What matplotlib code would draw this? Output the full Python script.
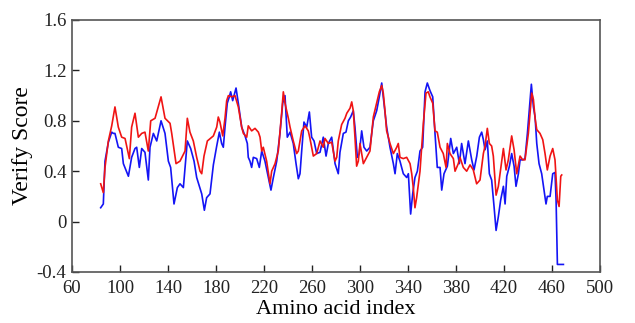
import matplotlib
matplotlib.use("Agg")
import matplotlib.pyplot as plt

# Red series (residue index, verify score)
red_x = [83.9, 86.1, 87.5, 90.3, 93.1, 95.8, 98.6, 101.4, 104.2, 107.8, 109.7, 112.5, 115.3, 118.1,
         120.8, 123.6, 125.6, 129.2, 134.2, 137.5, 141.7, 143.1, 146.7, 150.0, 154.2, 156.1, 158.3,
         161.1, 163.9, 166.7, 168.1, 170.0, 172.8, 177.8, 180.6, 181.9, 183.3, 185.6, 187.5, 188.9,
         190.3, 193.1, 195.8, 198.6, 201.4, 202.8, 205.6, 206.9, 209.7, 212.5, 215.3, 216.7, 218.1,
         219.4, 222.2, 225.0, 226.4, 229.2, 231.9, 234.7, 236.1, 237.5, 240.3, 241.7, 244.4, 247.2,
         248.6, 251.4, 254.2, 256.9, 258.3, 261.1, 263.9, 266.7, 269.4, 270.8, 273.6, 276.4, 279.2,
         280.6, 281.9, 284.7, 287.5, 289.0, 291.7, 293.1, 294.4, 295.8, 297.2, 298.6, 300.0, 302.8,
         305.6, 308.3, 311.1, 313.9, 316.1, 318.1, 319.4, 320.8, 322.2, 325.0, 327.8, 330.6, 331.9,
         333.3, 336.1, 338.9, 341.7, 343.1, 344.4, 345.8, 347.2, 350.0, 352.8, 355.0, 356.9, 358.3,
         360.6, 362.5, 364.4, 366.7, 369.4, 371.7, 372.8, 375.0, 377.8, 379.2, 381.9, 383.3, 386.1,
         388.9, 391.7, 394.4, 397.2, 400.0, 402.8, 404.2, 406.1, 407.8, 409.7, 411.1, 413.4, 415.3,
         416.7, 419.5, 421.7, 423.6, 426.4, 428.4, 430.6, 433.4, 435.6, 437.5, 440.3, 443.1, 444.5,
         445.9, 447.3, 450.0, 452.3, 454.2, 456.1, 458.4, 460.6, 462.5, 464.5, 465.9, 467.3, 468.1]
red_y = [0.30, 0.23, 0.43, 0.64, 0.76, 0.91, 0.75, 0.67, 0.66, 0.50, 0.75, 0.86, 0.67, 0.70,
         0.71, 0.56, 0.80, 0.82, 0.99, 0.82, 0.78, 0.70, 0.46, 0.48, 0.56, 0.82, 0.71,
         0.64, 0.51, 0.40, 0.38, 0.52, 0.64, 0.68, 0.75, 0.83, 0.79, 0.68, 0.82, 0.96,
         1.00, 0.99, 1.00, 0.91, 0.75, 0.70, 0.67, 0.76, 0.72, 0.74, 0.71, 0.67, 0.56,
         0.59, 0.48, 0.30, 0.40, 0.46, 0.56, 0.86, 1.03, 0.94, 0.82, 0.75, 0.64, 0.54,
         0.56, 0.72, 0.76, 0.72, 0.66, 0.52, 0.54, 0.64, 0.59, 0.66, 0.62, 0.63, 0.48,
         0.51, 0.64, 0.77, 0.82, 0.86, 0.90, 0.95, 0.88, 0.67, 0.44, 0.48, 0.62, 0.46,
         0.51, 0.56, 0.83, 0.94, 1.03, 1.08, 1.02, 0.88, 0.72, 0.62, 0.54, 0.59, 0.62,
         0.51, 0.50, 0.51, 0.46, 0.38, 0.27, 0.11, 0.19, 0.40, 0.78, 1.02, 1.03, 0.99,
         0.94, 0.72, 0.71, 0.59, 0.54, 0.43, 0.62, 0.54, 0.50, 0.40, 0.46, 0.51, 0.43,
         0.40, 0.45, 0.41, 0.30, 0.33, 0.54, 0.60, 0.74, 0.62, 0.60, 0.52, 0.21, 0.28,
         0.38, 0.58, 0.41, 0.49, 0.68, 0.57, 0.38, 0.52, 0.49, 0.49, 0.70, 1.02, 0.97,
         0.82, 0.73, 0.70, 0.65, 0.54, 0.41, 0.52, 0.58, 0.49, 0.17, 0.12, 0.36, 0.37]

# Blue series
blue_x = [83.9, 86.1, 87.5, 90.3, 93.1, 94.4, 95.8, 98.6, 101.4, 102.8, 107.0, 109.7, 112.5, 113.9,
          116.1, 118.1, 120.8, 123.6, 125.0, 127.8, 130.6, 134.2, 137.5, 140.3, 142.2, 145.0, 147.8,
          150.0, 152.8, 156.1, 158.9, 161.7, 163.9, 168.1, 170.3, 172.2, 175.0, 177.8, 180.6, 182.8,
          184.7, 186.1, 187.5, 189.4, 191.1, 192.2, 193.9, 196.7, 198.6, 201.4, 204.2, 206.1, 206.9,
          208.3, 209.7, 211.1, 213.9, 216.1, 218.1, 220.8, 223.6, 225.8, 227.8, 230.6, 233.3, 235.6,
          237.5, 239.4, 241.7, 244.4, 246.7, 248.6, 250.0, 251.4, 253.3, 255.6, 257.8, 259.7, 261.7,
          263.9, 266.7, 269.4, 271.7, 273.6, 276.4, 279.2, 281.9, 283.3, 286.1, 288.3, 290.3, 292.2,
          294.4, 295.8, 297.8, 299.4, 301.4, 303.3, 305.6, 308.3, 311.1, 313.9, 316.1, 318.1, 319.4,
          322.2, 325.0, 327.8, 329.2, 331.1, 333.3, 336.1, 338.9, 340.3, 342.2, 343.9, 345.8, 347.8,
          350.0, 352.2, 354.2, 356.1, 358.3, 360.6, 362.5, 364.4, 366.7, 368.1, 370.0, 372.8, 375.6,
          377.8, 380.6, 382.8, 384.7, 387.5, 390.3, 393.1, 395.0, 397.3, 399.5, 401.4, 402.8, 404.2,
          406.1, 407.8, 409.7, 411.7, 413.4, 415.3, 417.2, 419.5, 420.9, 422.3, 424.5, 426.4, 428.4,
          430.0, 432.0, 433.4, 435.6, 437.5, 439.5, 441.1, 442.8, 444.5, 445.9, 447.3, 449.2, 451.4,
          453.4, 455.0, 456.1, 458.4, 460.6, 462.5, 463.4, 464.5, 469.5]
blue_y = [0.11, 0.14, 0.48, 0.63, 0.71, 0.70, 0.70, 0.59, 0.58, 0.46, 0.36, 0.51, 0.58, 0.59,
          0.43, 0.58, 0.55, 0.33, 0.59, 0.70, 0.64, 0.80, 0.70, 0.48, 0.43, 0.14, 0.27,
          0.30, 0.27, 0.64, 0.58, 0.48, 0.35, 0.22, 0.09, 0.19, 0.22, 0.45, 0.60, 0.71,
          0.62, 0.59, 0.75, 0.94, 0.99, 1.03, 0.96, 1.06, 0.94, 0.75, 0.68, 0.62, 0.51,
          0.48, 0.43, 0.51, 0.50, 0.43, 0.56, 0.48, 0.35, 0.25, 0.35, 0.48, 0.70, 0.94,
          1.00, 0.67, 0.71, 0.62, 0.46, 0.34, 0.38, 0.56, 0.79, 0.75, 0.87, 0.67, 0.64,
          0.54, 0.55, 0.67, 0.52, 0.62, 0.67, 0.46, 0.38, 0.55, 0.70, 0.71, 0.80, 0.83,
          0.88, 0.75, 0.51, 0.54, 0.72, 0.59, 0.56, 0.59, 0.80, 0.88, 0.99, 1.10, 0.99,
          0.75, 0.59, 0.46, 0.38, 0.54, 0.48, 0.38, 0.35, 0.38, 0.06, 0.22, 0.35, 0.40,
          0.56, 0.59, 1.03, 1.10, 1.04, 0.99, 0.70, 0.43, 0.43, 0.25, 0.38, 0.44, 0.66,
          0.54, 0.59, 0.46, 0.62, 0.46, 0.64, 0.49, 0.41, 0.52, 0.67, 0.71, 0.65, 0.57,
          0.64, 0.38, 0.33, 0.12, -0.07, 0.04, 0.17, 0.28, 0.14, 0.36, 0.44, 0.54, 0.44,
          0.28, 0.38, 0.49, 0.49, 0.50, 0.70, 0.89, 1.09, 0.91, 0.83, 0.62, 0.46, 0.38,
          0.25, 0.14, 0.20, 0.20, 0.38, 0.39, 0.17, -0.34, -0.34]

x_ticks = [60, 100, 140, 180, 220, 260, 300, 340, 380, 420, 460, 500]
y_ticks = [-0.4, 0, 0.4, 0.8, 1.2, 1.6]
y_tick_labels = ["-0.4", "0", "0.4", "0.8", "1.2", "1.6"]

plt.rcParams['font.family'] = ['Liberation Serif', 'DejaVu Serif']

fig = plt.figure(figsize=(6.35, 3.23), dpi=100)
ax = fig.add_axes([72/635, 1-272/323, 528/635, 252/323])

ax.plot(blue_x, blue_y, color='#1414f5', lw=1.2)
ax.plot(red_x, red_y, color='#f01414', lw=1.2)

ax.set_xlim(60, 500)
ax.set_ylim(-0.4, 1.6)
ax.set_xticks(x_ticks)
ax.set_xticklabels([str(t) for t in x_ticks])
ax.set_yticks(y_ticks)
ax.set_yticklabels(y_tick_labels)
ax.tick_params(direction='in', length=5, width=1, labelsize=13.5, colors='#222222',
               top=False, right=False)
ax.tick_params(axis='x', pad=6)
ax.tick_params(axis='y', pad=4)
for s in ax.spines.values():
    s.set_color('#555555')
    s.set_linewidth(1.2)

ax.set_xlabel('Amino acid index', fontsize=16, labelpad=2)
ax.set_ylabel('Verify Score', fontsize=17, labelpad=3)

fig.savefig('out.png', dpi=100)
